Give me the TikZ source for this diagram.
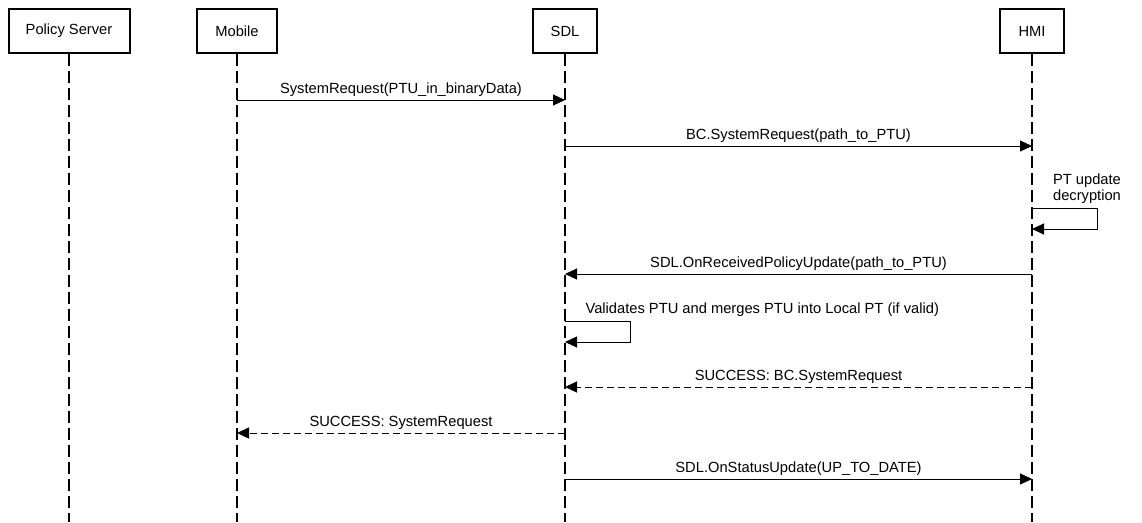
\documentclass[tikz,border=0pt]{standalone}
\usepackage{fontspec}
\setmainfont{Liberation Sans}
\usetikzlibrary{arrows.meta}

\begin{document}
\begin{tikzpicture}[x=1pt,y=-1pt,>={Triangle[length=12pt,width=11pt]},font=\fontsize{14.7}{16}\selectfont]
  \tikzset{actor/.style={draw,line width=2pt,minimum height=44pt,inner sep=0pt},
    life/.style={line width=1.1pt,dash pattern=on 12pt off 5pt},
    msg/.style={->,line width=1pt},
    reply/.style={msg,dash pattern=on 7pt off 4pt},
    lbl/.style={above,inner sep=3pt}}
  \useasboundingbox (0,0) rectangle (1142,522);
  \node[actor,minimum width=121pt] (ps)  at (69, 31)  {Policy Server};
  \node[actor,minimum width=80pt]  (mob) at (237, 31) {Mobile};
  \node[actor,minimum width=64pt]  (sdl) at (565, 31) {SDL};
  \node[actor,minimum width=64pt]  (hmi) at (1032, 31) {HMI};
  \foreach \a in {ps,mob,sdl,hmi}
    \draw[life] (\a.south) -- (\a.south |- 0,522);
  \coordinate (m1a) at (mob |- 0,100);  \coordinate (m1b) at (sdl |- 0,100);
  \coordinate (m2a) at (sdl |- 0,146);  \coordinate (m2b) at (hmi |- 0,146);
  \coordinate (s1a) at (hmi |- 0,208);  \coordinate (s1b) at (hmi |- 0,229);
  \coordinate (m3a) at (hmi |- 0,274);  \coordinate (m3b) at (sdl |- 0,274);
  \coordinate (s2a) at (sdl |- 0,321);  \coordinate (s2b) at (sdl |- 0,342);
  \coordinate (r1a) at (hmi |- 0,387);  \coordinate (r1b) at (sdl |- 0,387);
  \coordinate (r2a) at (sdl |- 0,433);  \coordinate (r2b) at (mob |- 0,433);
  \coordinate (m4a) at (sdl |- 0,479);  \coordinate (m4b) at (hmi |- 0,479);
  \path[msg] (m1a) edge node[lbl] {SystemRequest(PTU\_in\_binaryData)} (m1b);
  \path[msg] (m2a) edge node[lbl] {BC.SystemRequest(path\_to\_PTU)} (m2b);
  \draw[msg] (s1a) -- ++(65,0) |- (s1b);
  \node[align=center] (ptlbl) at (1087,189) {PT update\\decryption};
  \path[msg] (m3a) edge node[lbl] {SDL.OnReceivedPolicyUpdate(path\_to\_PTU)} (m3b);
  \draw[msg] (s2a) -- ++(65,0) |- (s2b);
  \node[anchor=west] (vlbl) at (582,310) {Validates PTU and merges PTU into Local PT (if valid)};
  \path[reply] (r1a) edge node[lbl] {SUCCESS: BC.SystemRequest} (r1b);
  \path[reply] (r2a) edge node[lbl] {SUCCESS: SystemRequest} (r2b);
  \path[msg] (m4a) edge node[lbl] {SDL.OnStatusUpdate(UP\_TO\_DATE)} (m4b);
\end{tikzpicture}
\end{document}
